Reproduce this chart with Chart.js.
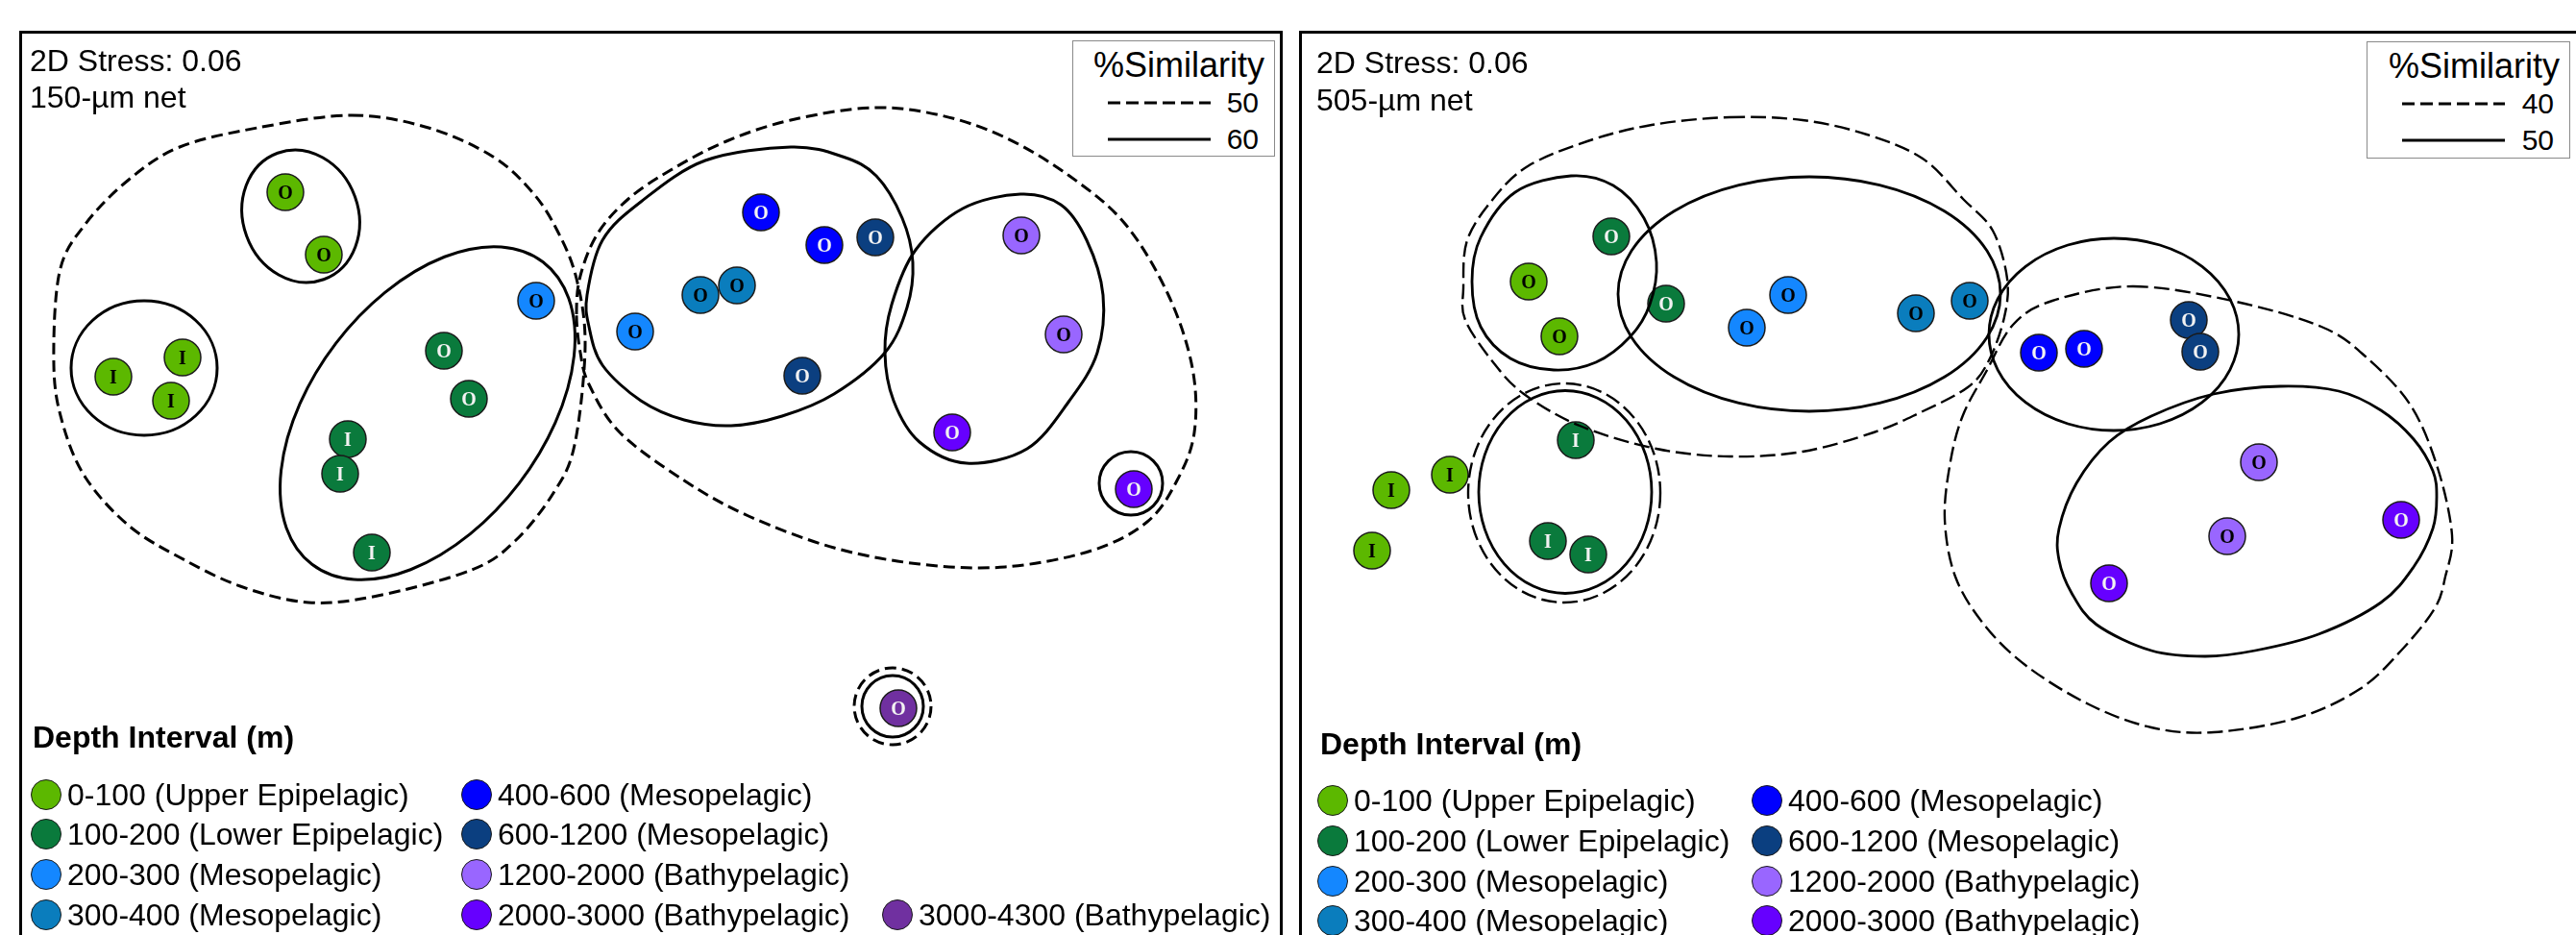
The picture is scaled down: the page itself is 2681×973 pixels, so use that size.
<!DOCTYPE html>
<html>
<head>
<meta charset="utf-8">
<script src="https://cdn.jsdelivr.net/npm/chart.js@4.4.1/dist/chart.umd.min.js"></script>
<style>
  html, body { margin: 0; padding: 0; background: #fff; }
  body { width: 2681px; height: 973px; position: relative; overflow: hidden;
         font-family: "Liberation Sans", Arial, sans-serif; color: #000; }
  .frame { position: absolute; top: 32px; height: 1000px; border: 3px solid #000; box-sizing: border-box; }
  canvas { position: absolute; }
  .note { position: absolute; font-size: 32px; line-height: 32px; white-space: nowrap; }
  .simbox { position: absolute; border: 1.5px solid #8a8a8a; box-sizing: border-box; background: #fff; }
  .simtitle { position: absolute; right: 10px; top: 7px; font-size: 36px; line-height: 36px; white-space: nowrap; }
  .simval { position: absolute; right: 16px; font-size: 30px; line-height: 30px; }
  .simbox svg { position: absolute; left: 0; top: 0; }
  .ltitle { position: absolute; font-size: 32px; line-height: 32px; font-weight: bold; white-space: nowrap; }
  .litem { position: absolute; height: 32px; display: flex; align-items: center; white-space: nowrap;
           font-size: 32px; line-height: 32px; }
  .lmark { width: 32px; height: 32px; border-radius: 50%; border: 1.5px solid #1a1a1a; box-sizing: border-box;
           margin-right: 6px; flex: none; }
</style>
</head>
<body>

<div class="frame" style="left:20px;width:1315px;"></div>
<div class="frame" style="left:1352px;width:1400px;"></div>

<canvas id="c150" width="1312" height="940" style="left:21px;top:33px;"></canvas>
<canvas id="c505" width="1324" height="940" style="left:1354px;top:33px;"></canvas>

<div class="note" style="left:31px;top:47px;">2D Stress: 0.06</div>
<div class="note" style="left:31px;top:85px;">150-µm net</div>
<div class="note" style="left:1370px;top:49px;">2D Stress: 0.06</div>
<div class="note" style="left:1370px;top:88px;">505-µm net</div>

<script>
// Depth intervals (m) shared by both nets
const depthLabels = [
  '0-100 (Upper Epipelagic)', '100-200 (Lower Epipelagic)', '200-300 (Mesopelagic)',
  '300-400 (Mesopelagic)', '400-600 (Mesopelagic)', '600-1200 (Mesopelagic)',
  '1200-2000 (Bathypelagic)', '2000-3000 (Bathypelagic)', '3000-4300 (Bathypelagic)'
];
const depthFill = ['#5cb800', '#0a7a3c', '#1487ff', '#0a7dbd', '#0000ff', '#0b3f80', '#9966ff', '#6600ff', '#7030a0'];
const depthInk  = ['#000', '#f2f2f2', '#000', '#000', '#f2f2f2', '#f2f2f2', '#000', '#f2f2f2', '#f2f2f2'];

// 150-µm net: nMDS coordinates, depth interval index, station letter
const n150X = [-3.80, -3.40, -5.59, -4.87, -4.99, -2.15, -1.89, -3.15, -3.23, -2.90, -1.19, -0.16,
               1.15, 1.81, 2.34, 1.58, 0.52, 0.90, 3.86, 4.30, 3.14, 5.03, 2.58];
const n150Y = [2.73, 2.08, 0.81, 1.01, 0.56, 1.08, 0.58, 0.16, -0.20, -1.02, 1.60, 1.28,
               2.52, 2.18, 2.26, 0.82, 1.66, 1.76, 2.28, 1.25, 0.23, -0.36, -2.64];
const n150Depth = [0, 0, 0, 0, 0, 1, 1, 1, 1, 1, 2, 2, 4, 4, 5, 5, 3, 3, 6, 6, 7, 7, 8];
const n150Site = ['O', 'O', 'I', 'I', 'I', 'O', 'O', 'I', 'I', 'I', 'O', 'O',
                  'O', 'O', 'O', 'O', 'O', 'O', 'O', 'O', 'O', 'O', 'O'];

// 505-µm net: nMDS coordinates, depth interval index, station letter
const n505X = [-3.39, -4.25, -3.93, -2.82, -1.98, -1.55, -0.22, 0.34, 1.06, 1.53, 2.62, 2.74,
               3.35, 3.02, 4.83, 1.79, -3.76, -4.05, -3.63, -5.07, -5.68, -5.88];
const n505Y = [2.27, 1.80, 1.23, 1.57, 1.32, 1.66, 1.47, 1.60, 1.06, 1.10, 1.40, 1.07,
               -0.08, -0.85, -0.68, -1.34, 0.15, -0.90, -1.04, -0.21, -0.37, -1.00];
const n505Depth = [1, 0, 0, 1, 2, 2, 3, 3, 4, 4, 5, 5, 6, 6, 7, 7, 1, 1, 1, 0, 0, 0];
const n505Site = ['O', 'O', 'O', 'O', 'O', 'O', 'O', 'O', 'O', 'O', 'O', 'O',
                  'O', 'O', 'O', 'O', 'I', 'I', 'I', 'I', 'I', 'I'];

// %Similarity levels of the cluster outlines (lower level dashed, higher solid)
const n150Levels = [50, 60];
const n505Levels = [40, 50];

// Cluster outlines in nMDS units: ellipse = [cx, cy, rx, ry, angle°] or a closed path
const n150Clusters = [
  { level: 60, ellipse: [-3.64, 2.48, 0.60, 0.70, 20] },
  { level: 60, ellipse: [-5.27, 0.90, 0.76, 0.70, 0] },
  { level: 60, ellipse: [-2.32, 0.43, 1.98, 1.20, 52.6] },
  { level: 50, path: [[-3.11, 3.53], [-2.31, 3.40], [-1.64, 3.10], [-1.23, 2.73], [-0.97, 2.33], [-0.77, 1.83],
                      [-0.68, 1.13], [-0.79, 0.10], [-1.01, -0.40], [-1.41, -0.90], [-1.86, -1.20], [-2.84, -1.47],
                      [-3.56, -1.54], [-4.27, -1.37], [-4.90, -1.07], [-5.43, -0.74], [-5.88, -0.24], [-6.12, 0.33],
                      [-6.21, 0.93], [-6.15, 1.90], [-5.88, 2.40], [-5.43, 2.86], [-4.90, 3.20], [-4.09, 3.40]] },
  { level: 60, path: [[1.46, 3.20], [2.00, 3.10], [2.35, 2.90], [2.62, 2.46], [2.73, 2.00], [2.67, 1.53],
                      [2.44, 1.06], [1.91, 0.63], [1.37, 0.40], [0.84, 0.30], [0.35, 0.36], [-0.10, 0.56],
                      [-0.50, 0.93], [-0.64, 1.33], [-0.66, 1.66], [-0.50, 2.23], [-0.10, 2.63], [0.57, 3.06]] },
  { level: 60, path: [[3.85, 2.71], [4.27, 2.60], [4.54, 2.23], [4.71, 1.66], [4.65, 1.06], [4.36, 0.56],
                      [3.92, 0.06], [3.29, -0.09], [2.80, 0.13], [2.53, 0.56], [2.44, 1.06], [2.51, 1.56],
                      [2.76, 2.13], [3.25, 2.56]] },
  { level: 60, ellipse: [5.00, -0.30, 0.33, 0.33, 0] },
  { level: 50, path: [[-0.77, 1.46], [-0.73, 1.86], [-0.55, 2.30], [-0.23, 2.66], [0.21, 2.96], [0.79, 3.26],
                      [1.46, 3.48], [2.31, 3.61], [3.02, 3.53], [3.69, 3.30], [4.36, 2.90], [4.94, 2.40],
                      [5.39, 1.66], [5.64, 0.90], [5.66, 0.23], [5.48, -0.27], [5.17, -0.70], [4.59, -1.00],
                      [3.69, -1.17], [2.80, -1.14], [1.91, -0.97], [1.02, -0.64], [0.35, -0.27], [-0.32, 0.23],
                      [-0.64, 0.73], [-0.73, 1.06]] },
  { level: 60, ellipse: [2.52, -2.62, 0.32, 0.32, 0] },
  { level: 50, ellipse: [2.52, -2.62, 0.40, 0.40, 0] }
];

const n505Clusters = [
  { level: 50, path: [[-3.81, 2.90], [-3.37, 2.80], [-3.05, 2.46], [-2.92, 2.00], [-2.99, 1.56], [-3.19, 1.23],
                      [-3.55, 0.96], [-3.99, 0.88], [-4.44, 1.00], [-4.75, 1.33], [-4.84, 1.80], [-4.75, 2.26],
                      [-4.39, 2.73]] },
  { level: 50, ellipse: [-1.33, 1.67, 1.99, 1.22, 0] },
  { level: 40, path: [[-2.16, 3.51], [-1.40, 3.48], [-0.73, 3.33], [-0.15, 3.08], [0.27, 2.66], [0.58, 2.33],
                      [0.73, 1.83], [0.70, 1.43], [0.54, 0.98], [0.32, 0.70], [-0.19, 0.43], [-0.66, 0.23],
                      [-1.40, 0.03], [-2.16, -0.02], [-2.92, 0.06], [-3.72, 0.30], [-4.30, 0.63], [-4.62, 0.96],
                      [-4.91, 1.40], [-4.93, 1.73], [-4.89, 2.23], [-4.62, 2.66], [-4.26, 3.00], [-3.64, 3.26],
                      [-2.97, 3.43]] },
  { level: 50, ellipse: [-3.87, -0.39, 0.90, 1.055, 0] },
  { level: 40, ellipse: [-3.88, -0.40, 1.00, 1.14, 0] },
  { level: 50, ellipse: [1.84, 1.25, 1.30, 1.00, 0] },
  { level: 40, path: [[2.04, 1.75], [3.07, 1.60], [4.00, 1.33], [4.47, 1.01], [4.93, 0.51], [5.21, -0.14],
                      [5.36, -0.84], [5.29, -1.27], [5.18, -1.60], [4.83, -2.04], [4.40, -2.44], [3.75, -2.74],
                      [2.88, -2.89], [2.23, -2.84], [1.58, -2.60], [0.93, -2.20], [0.49, -1.77], [0.19, -1.27],
                      [0.08, -0.67], [0.14, -0.07], [0.27, 0.41], [0.51, 0.86], [0.79, 1.35], [1.20, 1.60]] },
  { level: 50, path: [[3.57, 0.71], [4.18, 0.66], [4.62, 0.46], [4.96, 0.16], [5.16, -0.17], [5.20, -0.44],
                      [5.16, -0.77], [4.96, -1.17], [4.62, -1.54], [3.97, -1.87], [3.31, -2.04], [2.79, -2.10],
                      [2.23, -2.04], [1.66, -1.77], [1.40, -1.44], [1.27, -1.10], [1.27, -0.77], [1.45, -0.30],
                      [1.79, 0.13], [2.23, 0.40], [2.88, 0.63]] }
];

// One scatter dataset per depth interval present in a net
function makeDatasets(xs, ys, depth, site) {
  const sets = [];
  depthLabels.forEach((label, k) => {
    const pts = [];
    xs.forEach((x, i) => { if (depth[i] === k) pts.push({ x: x, y: ys[i], site: site[i] }); });
    if (!pts.length) return;
    sets.push({
      label: label, depthIndex: k, data: pts,
      backgroundColor: depthFill[k], borderColor: '#1a1a1a', borderWidth: 1.5,
      pointRadius: 19, pointHoverRadius: 19, pointStyle: 'circle'
    });
  });
  return sets;
}

// Cluster outlines and the station letters inside each marker
function overlayPlugin(clusters, levels, look) {
  return {
    id: 'nmdsOverlay',
    afterDatasetsDraw(chart) {
      const ctx = chart.ctx, sx = chart.scales.x, sy = chart.scales.y;
      const ux = sx.getPixelForValue(1) - sx.getPixelForValue(0);
      const uy = sy.getPixelForValue(0) - sy.getPixelForValue(1);
      ctx.save();
      ctx.strokeStyle = '#000';
      ctx.lineJoin = 'round';
      clusters.forEach(c => {
        const dashed = c.level === levels[0];
        ctx.lineWidth = dashed ? look.dashWidth : look.solidWidth;
        ctx.setLineDash(dashed ? look.dash : []);
        ctx.beginPath();
        if (c.ellipse) {
          const [cx, cy, rx, ry, ang] = c.ellipse;
          ctx.ellipse(sx.getPixelForValue(cx), sy.getPixelForValue(cy), rx * ux, ry * uy,
                      -ang * Math.PI / 180, 0, 2 * Math.PI);
        } else {
          const p = c.path.map(([a, b]) => [sx.getPixelForValue(a), sy.getPixelForValue(b)]);
          const n = p.length;
          ctx.moveTo(p[0][0], p[0][1]);
          for (let i = 0; i < n; i++) {
            const p0 = p[(i - 1 + n) % n], p1 = p[i], p2 = p[(i + 1) % n], p3 = p[(i + 2) % n];
            ctx.bezierCurveTo(p1[0] + (p2[0] - p0[0]) / 6, p1[1] + (p2[1] - p0[1]) / 6,
                              p2[0] - (p3[0] - p1[0]) / 6, p2[1] - (p3[1] - p1[1]) / 6, p2[0], p2[1]);
          }
          ctx.closePath();
        }
        ctx.stroke();
      });
      ctx.setLineDash([]);
      ctx.font = 'bold 20px "Liberation Serif", "Times New Roman", serif';
      ctx.textAlign = 'center';
      ctx.textBaseline = 'alphabetic';
      chart.data.datasets.forEach((ds, di) => {
        const meta = chart.getDatasetMeta(di);
        ctx.fillStyle = depthInk[ds.depthIndex];
        meta.data.forEach((el, i) => {
          ctx.fillText(ds.data[i].site, el.x, el.y + 7);
        });
      });
      ctx.restore();
    }
  };
}

function makeChart(id, datasets, xr, yr, plugin) {
  return new Chart(document.getElementById(id), {
    type: 'scatter',
    data: { datasets: datasets },
    options: {
      responsive: false, animation: false, events: [],
      layout: { padding: 0, autoPadding: false },
      plugins: { legend: { display: false }, tooltip: { enabled: false } },
      scales: {
        x: { type: 'linear', min: xr[0], max: xr[1], display: false },
        y: { type: 'linear', min: yr[0], max: yr[1], display: false }
      }
    },
    plugins: [plugin]
  });
}

// %Similarity key box
function similarityKey(levels, left, top, w, h, dash) {
  const box = document.createElement('div');
  box.className = 'simbox';
  Object.assign(box.style, { left: left + 'px', top: top + 'px', width: w + 'px', height: h + 'px' });
  const t = document.createElement('div');
  t.className = 'simtitle';
  t.textContent = '%Similarity';
  box.appendChild(t);
  const rows = [64, 102];
  const svgNS = 'http://www.w3.org/2000/svg';
  const svg = document.createElementNS(svgNS, 'svg');
  svg.setAttribute('width', w); svg.setAttribute('height', h);
  levels.forEach((lv, i) => {
    const ln = document.createElementNS(svgNS, 'line');
    ln.setAttribute('x1', 36); ln.setAttribute('x2', 143);
    ln.setAttribute('y1', rows[i]); ln.setAttribute('y2', rows[i]);
    ln.setAttribute('stroke', '#000'); ln.setAttribute('stroke-width', 3);
    if (i === 0) ln.setAttribute('stroke-dasharray', dash.join(' '));
    svg.appendChild(ln);
    const v = document.createElement('div');
    v.className = 'simval';
    v.style.top = (rows[i] - 15) + 'px';
    v.textContent = lv;
    box.appendChild(v);
  });
  box.appendChild(svg);
  document.body.appendChild(box);
}

// Depth interval key built from the chart's datasets (four rows, column-major)
function depthKey(chart, pos) {
  const title = document.createElement('div');
  title.className = 'ltitle';
  title.textContent = 'Depth Interval (m)';
  Object.assign(title.style, { left: pos.titleX + 'px', top: pos.titleTop + 'px' });
  document.body.appendChild(title);
  const sets = chart.data.datasets;
  sets.forEach((ds, i) => {
    const col = Math.floor(i / 4);
    const inCol = Math.min(4, sets.length - col * 4);
    const row = (i % 4) + (4 - inCol);
    const item = document.createElement('div');
    item.className = 'litem';
    Object.assign(item.style, { left: (pos.colX[col] - 16) + 'px', top: (pos.rowY[row] - 16) + 'px' });
    const mk = document.createElement('span');
    mk.className = 'lmark';
    mk.style.background = ds.backgroundColor;
    const tx = document.createElement('span');
    tx.textContent = ds.label;
    item.appendChild(mk); item.appendChild(tx);
    document.body.appendChild(item);
  });
}

const chart150 = makeChart('c150', makeDatasets(n150X, n150Y, n150Depth, n150Site),
  [-6.56, 6.56], [-5.0, 4.4],
  overlayPlugin(n150Clusters, n150Levels, { dash: [12, 6], dashWidth: 3, solidWidth: 3 }));
const chart505 = makeChart('c505', makeDatasets(n505X, n505Y, n505Depth, n505Site),
  [-6.62, 6.62], [-5.0, 4.4],
  overlayPlugin(n505Clusters, n505Levels, { dash: [16, 6], dashWidth: 2.4, solidWidth: 2.8 }));

similarityKey(n150Levels, 1116, 42, 211, 121, [13, 6]);
similarityKey(n505Levels, 2463, 43, 212, 122, [13, 6]);

depthKey(chart150, { titleX: 34, titleTop: 751, colX: [48, 496, 934], rowY: [827, 868, 910, 952] });
depthKey(chart505, { titleX: 1374, titleTop: 758, colX: [1387, 1839], rowY: [833, 875, 917, 958] });
</script>
</body>
</html>
